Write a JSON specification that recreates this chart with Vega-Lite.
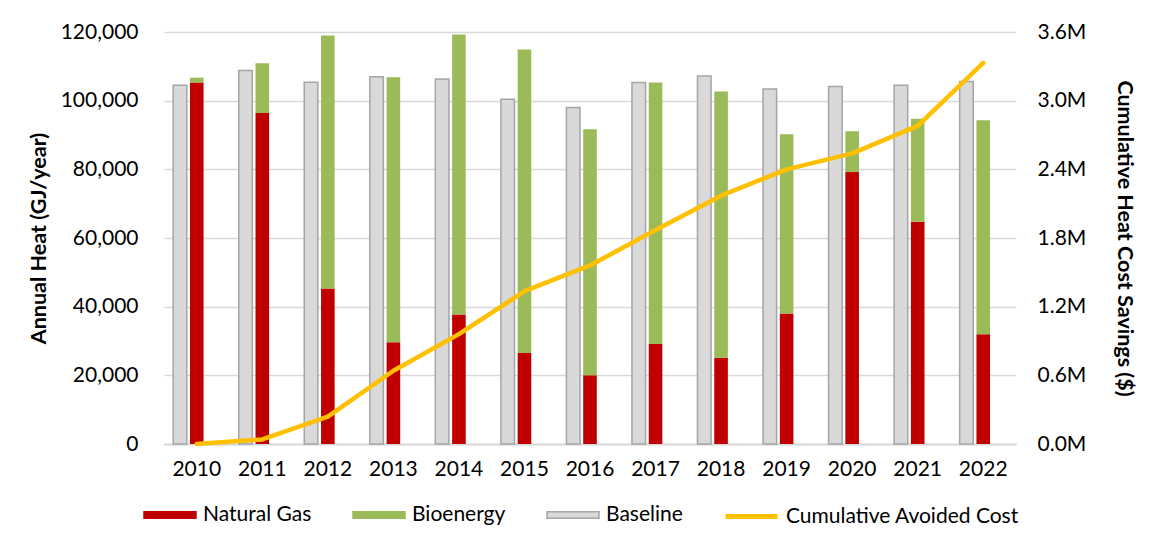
{
  "$schema": "https://vega.github.io/schema/vega-lite/v6.json",
  "autosize": {"type": "none"},
  "padding": {"left": 164, "top": 32, "right": 138, "bottom": 98},
  "width": 852,
  "height": 412,
  "background": "#ffffff",
  "config": {
    "font": "Lato",
    "view": {"stroke": null},
    "axis": {"labelFont": "Lato", "labelFontSize": 21, "labelColor": "#000000", "titleFont": "Lato", "titleFontSize": 21.5, "titleFontWeight": "bold", "titleColor": "#000000", "ticks": false},
    "legend": {"labelFont": "Lato", "labelFontSize": 21, "labelColor": "#000000", "labelOffset": 6, "columnPadding": 38, "labelLimit": 0, "symbolSize": 2700, "symbolOpacity": 1}
  },
  "datasets": {
    "bars": [
      {"year": "2010", "series": "Baseline", "value": 104500},
      {"year": "2011", "series": "Baseline", "value": 108800},
      {"year": "2012", "series": "Baseline", "value": 105400},
      {"year": "2013", "series": "Baseline", "value": 107000},
      {"year": "2014", "series": "Baseline", "value": 106300},
      {"year": "2015", "series": "Baseline", "value": 100400},
      {"year": "2016", "series": "Baseline", "value": 98000},
      {"year": "2017", "series": "Baseline", "value": 105300},
      {"year": "2018", "series": "Baseline", "value": 107200},
      {"year": "2019", "series": "Baseline", "value": 103400},
      {"year": "2020", "series": "Baseline", "value": 104100},
      {"year": "2021", "series": "Baseline", "value": 104500},
      {"year": "2022", "series": "Baseline", "value": 105600},
      {"year": "2010", "series": "Natural Gas", "value": 105300},
      {"year": "2011", "series": "Natural Gas", "value": 96400},
      {"year": "2012", "series": "Natural Gas", "value": 45300},
      {"year": "2013", "series": "Natural Gas", "value": 29600},
      {"year": "2014", "series": "Natural Gas", "value": 37700},
      {"year": "2015", "series": "Natural Gas", "value": 26500},
      {"year": "2016", "series": "Natural Gas", "value": 20000},
      {"year": "2017", "series": "Natural Gas", "value": 29100},
      {"year": "2018", "series": "Natural Gas", "value": 25100},
      {"year": "2019", "series": "Natural Gas", "value": 38000},
      {"year": "2020", "series": "Natural Gas", "value": 79200},
      {"year": "2021", "series": "Natural Gas", "value": 64700},
      {"year": "2022", "series": "Natural Gas", "value": 32000},
      {"year": "2010", "series": "Bioenergy", "value": 1400},
      {"year": "2011", "series": "Bioenergy", "value": 14500},
      {"year": "2012", "series": "Bioenergy", "value": 73700},
      {"year": "2013", "series": "Bioenergy", "value": 77200},
      {"year": "2014", "series": "Bioenergy", "value": 81600},
      {"year": "2015", "series": "Bioenergy", "value": 88400},
      {"year": "2016", "series": "Bioenergy", "value": 71700},
      {"year": "2017", "series": "Bioenergy", "value": 76200},
      {"year": "2018", "series": "Bioenergy", "value": 77600},
      {"year": "2019", "series": "Bioenergy", "value": 52200},
      {"year": "2020", "series": "Bioenergy", "value": 11900},
      {"year": "2021", "series": "Bioenergy", "value": 30000},
      {"year": "2022", "series": "Bioenergy", "value": 62300}
    ],
    "cost": [
      {"year": "2010", "cost": 0},
      {"year": "2011", "cost": 40000},
      {"year": "2012", "cost": 240000},
      {"year": "2013", "cost": 640000},
      {"year": "2014", "cost": 960000},
      {"year": "2015", "cost": 1335000},
      {"year": "2016", "cost": 1560000},
      {"year": "2017", "cost": 1870000},
      {"year": "2018", "cost": 2170000},
      {"year": "2019", "cost": 2400000},
      {"year": "2020", "cost": 2540000},
      {"year": "2021", "cost": 2780000},
      {"year": "2022", "cost": 3330000}
    ]
  },
  "layer": [
    {
      "data": {"name": "bars"},
      "layer": [
        {
          "transform": [{"filter": "datum.series === 'Baseline'"}],
          "mark": {"type": "bar", "strokeWidth": 1.5},
          "encoding": {
            "x": {"field": "year", "type": "nominal", "scale": {"paddingInner": 0.28, "paddingOuter": 0.14}, "axis": {"title": null, "labelAngle": 0, "labelPadding": 14, "domainColor": "#D9D9D9", "domainWidth": 2, "grid": false}},
            "xOffset": {"datum": "B", "scale": {"domain": ["B", "S", "E"], "paddingInner": 0.19, "paddingOuter": 0}},
            "y": {"field": "value", "type": "quantitative", "stack": null, "scale": {"domain": [0, 120000], "nice": false}, "axis": {"title": "Annual Heat (GJ/year)", "values": [0, 20000, 40000, 60000, 80000, 100000, 120000], "format": ",d", "domain": false, "gridColor": "#D9D9D9", "gridWidth": 1.5, "labelPadding": 26, "titlePadding": 10}},
            "fill": {"field": "series", "type": "nominal", "scale": {"domain": ["Natural Gas", "Bioenergy", "Baseline"], "range": ["#C00000", "#9BBB59", "#D9D9D9"]},
              "legend": {"orient": "none", "legendX": -21, "legendY": 456, "direction": "horizontal", "title": null, "symbolType": "M-1,-0.125H1V0.125H-1Z", "symbolStrokeWidth": 1.5}},
            "stroke": {"field": "series", "type": "nominal", "scale": {"domain": ["Natural Gas", "Bioenergy", "Baseline"], "range": ["#C00000", "#9BBB59", "#A5A5A5"]},
              "legend": {"orient": "none", "legendX": -21, "legendY": 456, "direction": "horizontal", "title": null, "symbolType": "M-1,-0.125H1V0.125H-1Z", "symbolStrokeWidth": 1.5}}
          }
        },
        {
          "transform": [{"filter": "datum.series !== 'Baseline'"}],
          "mark": {"type": "bar", "strokeWidth": 0},
          "encoding": {
            "x": {"field": "year", "type": "nominal"},
            "xOffset": {"datum": "S"},
            "y": {"field": "value", "type": "quantitative", "stack": "zero"},
            "fill": {"field": "series", "type": "nominal", "sort": ["Natural Gas", "Bioenergy"]},
            "stroke": {"field": "series", "type": "nominal"},
            "order": {"field": "series", "sort": "descending"}
          }
        }
      ]
    },
    {
      "data": {"name": "cost"},
      "mark": {"type": "line", "strokeWidth": 4.5, "strokeCap": "round", "strokeJoin": "round"},
      "encoding": {
        "x": {"field": "year", "type": "nominal"},
        "y": {"field": "cost", "type": "quantitative", "scale": {"domain": [0, 3600000], "nice": false}, "axis": {"orient": "right", "title": "Cumulative Heat Cost Savings ($)", "values": [0, 600000, 1200000, 1800000, 2400000, 3000000, 3600000], "labelExpr": "format(datum.value / 1000000, '.1f') + 'M'", "grid": false, "domain": false, "labelPadding": 21, "titlePadding": 27}},
        "color": {"datum": "Cumulative Avoided Cost", "scale": {"range": ["#FFC000"]},
          "legend": {"orient": "none", "legendX": 559, "legendY": 456, "direction": "horizontal", "title": null, "symbolType": "stroke", "symbolStrokeWidth": 5}}
      }
    }
  ],
  "resolve": {"scale": {"y": "independent"}}
}
